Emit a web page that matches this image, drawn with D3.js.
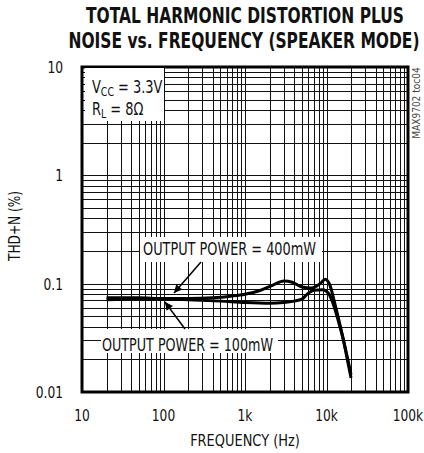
<!DOCTYPE html>
<html>
<head>
<meta charset="utf-8">
<script src="https://cdn.jsdelivr.net/npm/d3@7"></script>
<style>
  html, body { margin: 0; padding: 0; background: #fff; }
  text { font-family: "Liberation Sans Narrow", "DejaVu Sans Condensed", "Arial Narrow", sans-serif; fill: #111; }
</style>
</head>
<body>
<div id="chart"></div>
<script>
// Output power = 400mW
var freq400 = [20, 50, 100, 200, 400, 700, 1000, 1500, 2200, 3000, 3800, 5000, 6500, 8500, 9600, 11000, 12500, 14000, 16000, 18000, 20000];
var thd400 = [0.074, 0.074, 0.073, 0.073, 0.074, 0.077, 0.080, 0.086, 0.097, 0.106, 0.103, 0.093, 0.091, 0.101, 0.110, 0.097, 0.068, 0.048, 0.031, 0.020, 0.0135];

// Output power = 100mW
var freq100 = [20, 50, 100, 200, 500, 1000, 2000, 3000, 4000, 5000, 5800, 7000, 9000, 10500, 12000, 14000, 16000, 18000, 20000];
var thd100 = [0.071, 0.072, 0.072, 0.071, 0.069, 0.067, 0.066, 0.067, 0.069, 0.072, 0.080, 0.087, 0.088, 0.082, 0.066, 0.045, 0.031, 0.021, 0.0145];

// Tick labels
var xTicks = [10, 100, 1000, 10000, 100000];
var xTickLabels = ["10", "100", "1k", "10k", "100k"];
var yTicks = [10, 1, 0.1, 0.01];
var yTickLabels = ["10", "1", "0.1", "0.01"];

// Chart dimensions
var width = 424;
var height = 453;
var margin = { top: 67, right: 16, bottom: 61, left: 82 };
var plotW = width - margin.left - margin.right;
var plotH = height - margin.top - margin.bottom;

var svg = d3.select("#chart").append("svg")
    .attr("width", width)
    .attr("height", height);

// Text squeezed horizontally to look like the condensed type of the original
function addText(px, py, str, size, sx, anchor) {
    return svg.append("text")
        .attr("transform", "translate(" + px + "," + py + ") scale(" + sx + ",1)")
        .attr("text-anchor", anchor || "start")
        .style("font-size", size + "px")
        .text(str);
}

// Title
addText(245, 23, "TOTAL HARMONIC DISTORTION PLUS", 20.5, 0.84, "middle").style("font-weight", "bold");
addText(244, 48, "NOISE vs. FREQUENCY (SPEAKER MODE)", 20.5, 0.84, "middle").style("font-weight", "bold");

var g = svg.append("g")
    .attr("transform", "translate(" + margin.left + "," + margin.top + ")");

// Scales
var x = d3.scaleLog().domain([10, 100000]).range([0, plotW]);
var y = d3.scaleLog().domain([0.01, 10]).range([plotH, 0]);

// Grid lines (1..9 in each decade)
var xGrid = [];
for (var d = 10; d < 100000; d *= 10) {
    for (var k = 1; k < 10; k++) xGrid.push(d * k);
}
var yGrid = [];
for (var e = 0.01; e < 10; e *= 10) {
    for (var m = 1; m < 10; m++) yGrid.push(e * m);
}

g.selectAll(".vgrid")
    .data(xGrid)
    .enter().append("line")
    .attr("class", "vgrid")
    .attr("x1", function (v) { return Math.round(x(v)) + 0.5; })
    .attr("x2", function (v) { return Math.round(x(v)) + 0.5; })
    .attr("y1", 0).attr("y2", plotH)
    .style("stroke", "#111").style("stroke-width", 1);

g.selectAll(".hgrid")
    .data(yGrid)
    .enter().append("line")
    .attr("class", "hgrid")
    .attr("y1", function (v) { return Math.round(y(v)) + 0.5; })
    .attr("y2", function (v) { return Math.round(y(v)) + 0.5; })
    .attr("x1", 0).attr("x2", plotW)
    .style("stroke", "#111").style("stroke-width", 1);

// White label boxes covering the grid
function whiteBox(x0, y0, x1, y1) {
    svg.append("rect")
        .attr("x", x0).attr("y", y0)
        .attr("width", x1 - x0).attr("height", y1 - y0)
        .style("fill", "white");
}
whiteBox(85, 68, 164, 121);
whiteBox(140, 237, 322, 262);
whiteBox(101, 329, 278, 353);

// Curves
var line = d3.line()
    .x(function (p) { return margin.left + x(p[0]); })
    .y(function (p) { return margin.top + y(p[1]); })
    .curve(d3.curveMonotoneX);

var series = [
    d3.zip(freq100, thd100),
    d3.zip(freq400, thd400)
];
svg.selectAll(".curve")
    .data(series)
    .enter().append("path")
    .attr("class", "curve")
    .attr("d", line)
    .style("fill", "none")
    .style("stroke", "#000")
    .style("stroke-width", 3)
    .style("stroke-linejoin", "round");

// Plot border
g.append("rect")
    .attr("x", 0).attr("y", 0)
    .attr("width", plotW).attr("height", plotH)
    .style("fill", "none")
    .style("stroke", "#000")
    .style("stroke-width", 3);

// Axis tick labels
xTicks.forEach(function (v, i) {
    addText(margin.left + x(v), 421, xTickLabels[i], 16, 0.85, "middle");
});
yTicks.forEach(function (v, i) {
    addText(63, margin.top + y(v) + 6, yTickLabels[i], 16, 0.85, "end");
});

// Axis titles
addText(245, 446, "FREQUENCY (Hz)", 16, 0.9, "middle");

svg.append("text")
    .attr("transform", "translate(20,226) rotate(-90) scale(0.9,1)")
    .attr("text-anchor", "middle")
    .style("font-size", "15px")
    .text("THD+N (%)");

// Part number tag
svg.append("text")
    .attr("transform", "translate(420,103) rotate(-90)")
    .attr("text-anchor", "middle")
    .style("font-size", "10px")
    .style("fill", "#444")
    .text("MAX9702 toc04");

// Condition labels
var vcc = addText(92, 93, "", 18, 0.8);
vcc.append("tspan").text("V");
vcc.append("tspan").attr("dy", 3).style("font-size", "13px").text("CC");
vcc.append("tspan").attr("dy", -3).text(" = 3.3V");

var rl = addText(92, 115, "", 18, 0.8);
rl.append("tspan").text("R");
rl.append("tspan").attr("dy", 3).style("font-size", "13px").text("L");
rl.append("tspan").attr("dy", -3).text(" = 8\u03A9");

// Output power annotations
svg.append("text")
    .attr("x", 143).attr("y", 255)
    .attr("textLength", 173).attr("lengthAdjust", "spacingAndGlyphs")
    .style("font-size", "18px")
    .text("OUTPUT POWER = 400mW");

svg.append("text")
    .attr("x", 102).attr("y", 351)
    .attr("textLength", 171).attr("lengthAdjust", "spacingAndGlyphs")
    .style("font-size", "18px")
    .text("OUTPUT POWER = 100mW");

// Arrows
var defs = svg.append("defs");
defs.append("marker")
    .attr("id", "arrow")
    .attr("viewBox", "0 0 10 10")
    .attr("refX", 10).attr("refY", 5)
    .attr("markerWidth", 10).attr("markerHeight", 8)
    .attr("markerUnits", "userSpaceOnUse")
    .attr("orient", "auto")
    .append("path")
    .attr("d", "M0,0 L10,5 L0,10 z")
    .style("fill", "#000");

svg.append("line")
    .attr("x1", 201).attr("y1", 262)
    .attr("x2", 174).attr("y2", 293)
    .style("stroke", "#000").style("stroke-width", 1.5)
    .attr("marker-end", "url(#arrow)");

svg.append("line")
    .attr("x1", 185).attr("y1", 329)
    .attr("x2", 165).attr("y2", 302)
    .style("stroke", "#000").style("stroke-width", 1.5)
    .attr("marker-end", "url(#arrow)");
</script>
</body>
</html>
